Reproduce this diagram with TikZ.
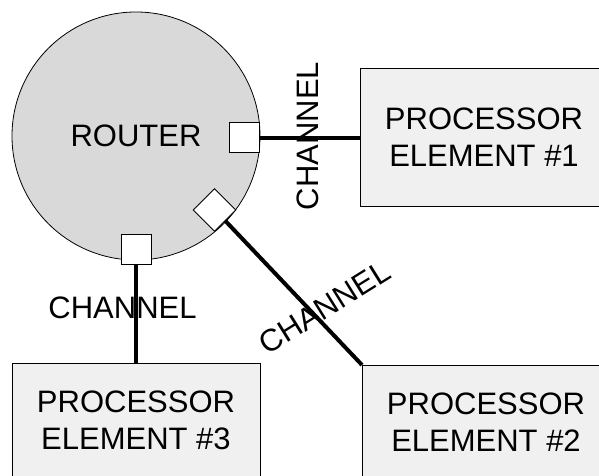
\documentclass[tikz,border=0pt]{standalone}
\usepackage{fontspec}
\setmainfont{Liberation Sans}
\usepackage{tikz}
\usetikzlibrary{positioning}

\definecolor{routergray}{RGB}{217,217,217}
\definecolor{pegray}{RGB}{240,240,240}

\begin{document}
\begin{tikzpicture}[x=1pt, y=1pt,
    every node/.style={font=\fontsize{31}{37}\selectfont, inner sep=0pt, outer sep=0pt},
    router/.style={draw, circle, fill=routergray, minimum size=248pt, line width=0.8pt},
    port/.style={draw, fill=white, minimum size=30pt, line width=1pt},
    pe/.style={draw, fill=pegray, minimum width=248pt, align=center, line width=1pt},
    channel/.style={line width=4pt}]
              \useasboundingbox (0,0) rectangle (599,475);

              % Nodes
              \node[router] (router) at (136,339) {ROUTER};
              \node[port] (p1) at (244,337.5) {};
              \node[port, rotate=45] (p2) at (214.5,265) {};
              \node[port] (p3) at (136,226) {};
              \node[pe, minimum height=137pt] (pe1) at (484,337.5) {PROCESSOR\\ELEMENT \#1};
              \node[pe, minimum height=114pt] (pe2) at (486,53) {PROCESSOR\\ELEMENT \#2};
              \node[pe, minimum height=114pt] (pe3) at (136,55) {PROCESSOR\\ELEMENT \#3};

              % Channels
              \draw[channel] (p1.east) -- (pe1.west);
              \draw[channel] (p2.south) -- (pe2.north west);
              \draw[channel] (p3.south) -- (pe3.north);

              % Labels
              \node[rotate=90] (ch1) at (307.5,339) {CHANNEL};
              \node[rotate=32] (ch2) at (324.5,167.5) {CHANNEL};
              \node (ch3) at (122.5,167.5) {CHANNEL};
            \end{tikzpicture}
\end{document}
